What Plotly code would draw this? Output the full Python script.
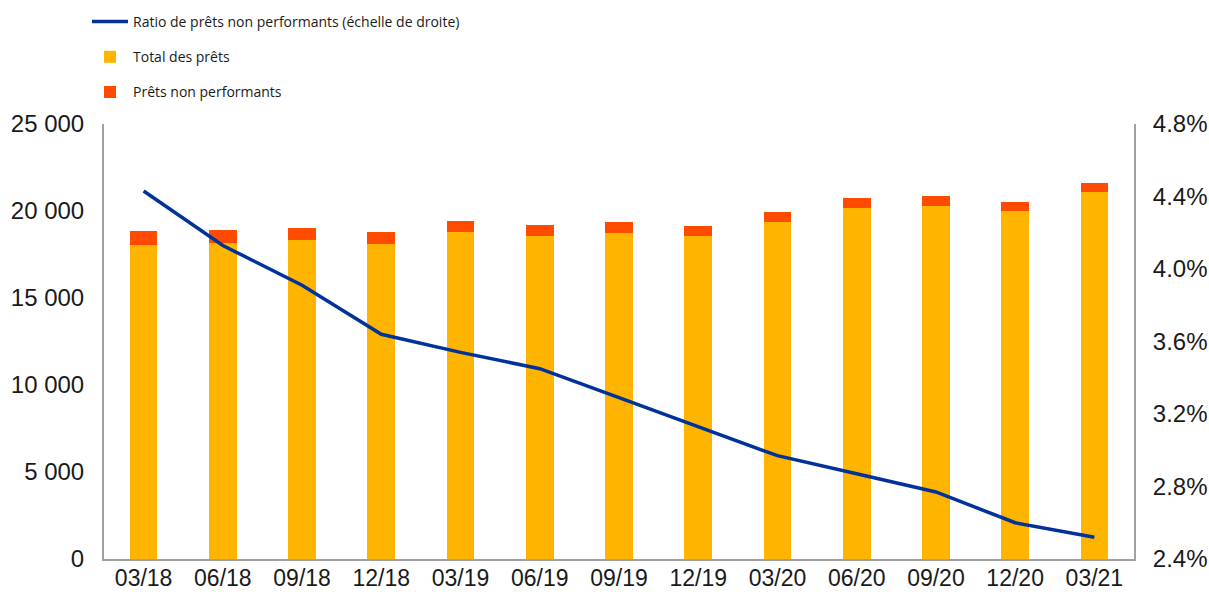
import plotly.graph_objects as go

categories = ["03/18", "06/18", "09/18", "12/18", "03/19", "06/19", "09/19",
              "12/19", "03/20", "06/20", "09/20", "12/20", "03/21"]
total_loans = [18050, 18180, 18330, 18100, 18790, 18560, 18740,
               18560, 19370, 20170, 20290, 20000, 21090]
npl = [800, 720, 690, 690, 630, 640, 630, 580, 570, 580, 570, 520, 520]
npl_ratio = [4.43, 4.13, 3.91, 3.64, 3.54, 3.45, 3.29, 3.13, 2.97, 2.87, 2.77, 2.60, 2.52]

left_ticks = [0, 5000, 10000, 15000, 20000, 25000]
right_ticks = [2.4, 2.8, 3.2, 3.6, 4.0, 4.4, 4.8]
right_tick_labels = ["2.4%", "2.8%", "3.2%", "3.6%", "4.0%", "4.4%", "4.8%"]

W, H = 1209, 592

fig = go.Figure()
fig.add_trace(go.Scatter(
    x=categories, y=npl_ratio, mode="lines", yaxis="y2",
    name="Ratio de prêts non performants (échelle de droite)",
    line=dict(color="#003299", width=3.5), legendgroup="a"))
fig.add_trace(go.Bar(
    x=categories, y=total_loans, name="Total des prêts",
    marker=dict(color="#FFB400", line=dict(width=0)), width=0.35, legendgroup="b"))
fig.add_trace(go.Bar(
    x=categories, y=npl, name="Prêts non performants",
    marker=dict(color="#FF4B00", line=dict(width=0)), width=0.35, legendgroup="c"))

axis_font = dict(family="Liberation Sans, Arial, sans-serif", size=24, color="#1a1a1a")

fig.update_layout(
    width=W, height=H,
    margin=dict(l=104, r=75, t=124, b=33, autoexpand=False),
    paper_bgcolor="white", plot_bgcolor="white",
    barmode="stack",
    separators=". ",
    showlegend=True,
    legend=dict(x=87 / W, y=1 - 6 / H, xref="container", yref="container",
                xanchor="left", yanchor="top",
                orientation="v", traceorder="grouped", tracegroupgap=14,
                font=dict(family="Open Sans, Noto Sans, sans-serif", size=14, color="#1a1a1a"),
                bgcolor="rgba(0,0,0,0)", itemwidth=36),
    xaxis=dict(showline=True, linecolor="#A0A0A0", linewidth=2, showgrid=False,
               ticks="", tickfont=dict(axis_font, size=23), mirror=False, automargin=False,
               ticklabelstandoff=-3),
    yaxis=dict(range=[0, 25000], tickvals=left_ticks, tickformat=",d",
               showline=True, linecolor="#A0A0A0", linewidth=2, showgrid=False,
               zeroline=False, ticks="outside", ticklen=13, tickcolor="rgba(0,0,0,0)",
               tickfont=axis_font, automargin=False),
    yaxis2=dict(range=[2.4, 4.8], tickvals=right_ticks, ticktext=right_tick_labels,
                overlaying="y", side="right",
                showline=True, linecolor="#A0A0A0", linewidth=2, showgrid=False,
                zeroline=False, ticks="outside", ticklen=12, tickcolor="rgba(0,0,0,0)",
                tickfont=axis_font, automargin=False, ticklabeloverflow="allow"),
)

fig.write_html("out.html", config={"displayModeBar": False},
               post_script="document.body.style.margin='0';")
